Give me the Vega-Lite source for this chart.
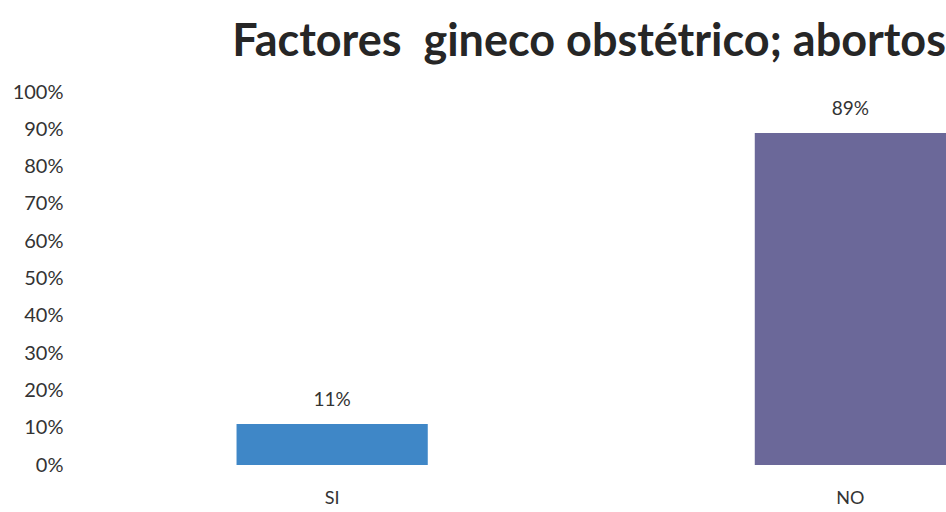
{
  "$schema": "https://vega.github.io/schema/vega-lite/v6.json",
  "autosize": "none",
  "width": 881,
  "height": 373,
  "padding": {"left": 65, "top": 92, "right": 0, "bottom": 47},
  "background": "white",
  "title": {
    "text": "Factores\u00a0 gineco obstétrico; abortos",
    "anchor": "end",
    "frame": "group",
    "font": "Lato",
    "fontWeight": "bold",
    "fontSize": 45,
    "color": "#262626",
    "baseline": "alphabetic",
    "offset": -19
  },
  "data": {
    "values": [
      {"categoria": "SI", "porcentaje": 0.11},
      {"categoria": "NO", "porcentaje": 0.89}
    ]
  },
  "encoding": {
    "x": {
      "field": "categoria",
      "type": "nominal",
      "sort": ["SI", "NO"],
      "scale": {"paddingInner": 0.631, "paddingOuter": 0.1655, "align": 1},
      "axis": {
        "title": null,
        "labelAngle": 0,
        "domain": false,
        "ticks": false,
        "labelPadding": 24,
        "labelFont": "Lato",
        "labelFontSize": 18,
        "labelColor": "#333333"
      }
    },
    "y": {
      "field": "porcentaje",
      "type": "quantitative",
      "scale": {"domain": [0, 1], "nice": false},
      "axis": {
        "title": null,
        "format": ".0%",
        "values": [0, 0.1, 0.2, 0.3, 0.4, 0.5, 0.6, 0.7, 0.8, 0.9, 1],
        "grid": false,
        "domain": false,
        "ticks": false,
        "labelPadding": 2,
        "labelFont": "Lato",
        "labelFontSize": 20,
        "labelColor": "#333333"
      }
    }
  },
  "layer": [
    {
      "mark": {"type": "bar"},
      "encoding": {
        "color": {
          "field": "categoria",
          "type": "nominal",
          "scale": {"domain": ["SI", "NO"], "range": ["#3f87c7", "#6b6899"]},
          "legend": null
        }
      }
    },
    {
      "mark": {"type": "text", "dy": -24, "font": "Lato", "fontSize": 19, "color": "#333333"},
      "encoding": {
        "text": {"field": "porcentaje", "type": "quantitative", "format": ".0%"}
      }
    }
  ],
  "config": {"view": {"stroke": null}}
}
